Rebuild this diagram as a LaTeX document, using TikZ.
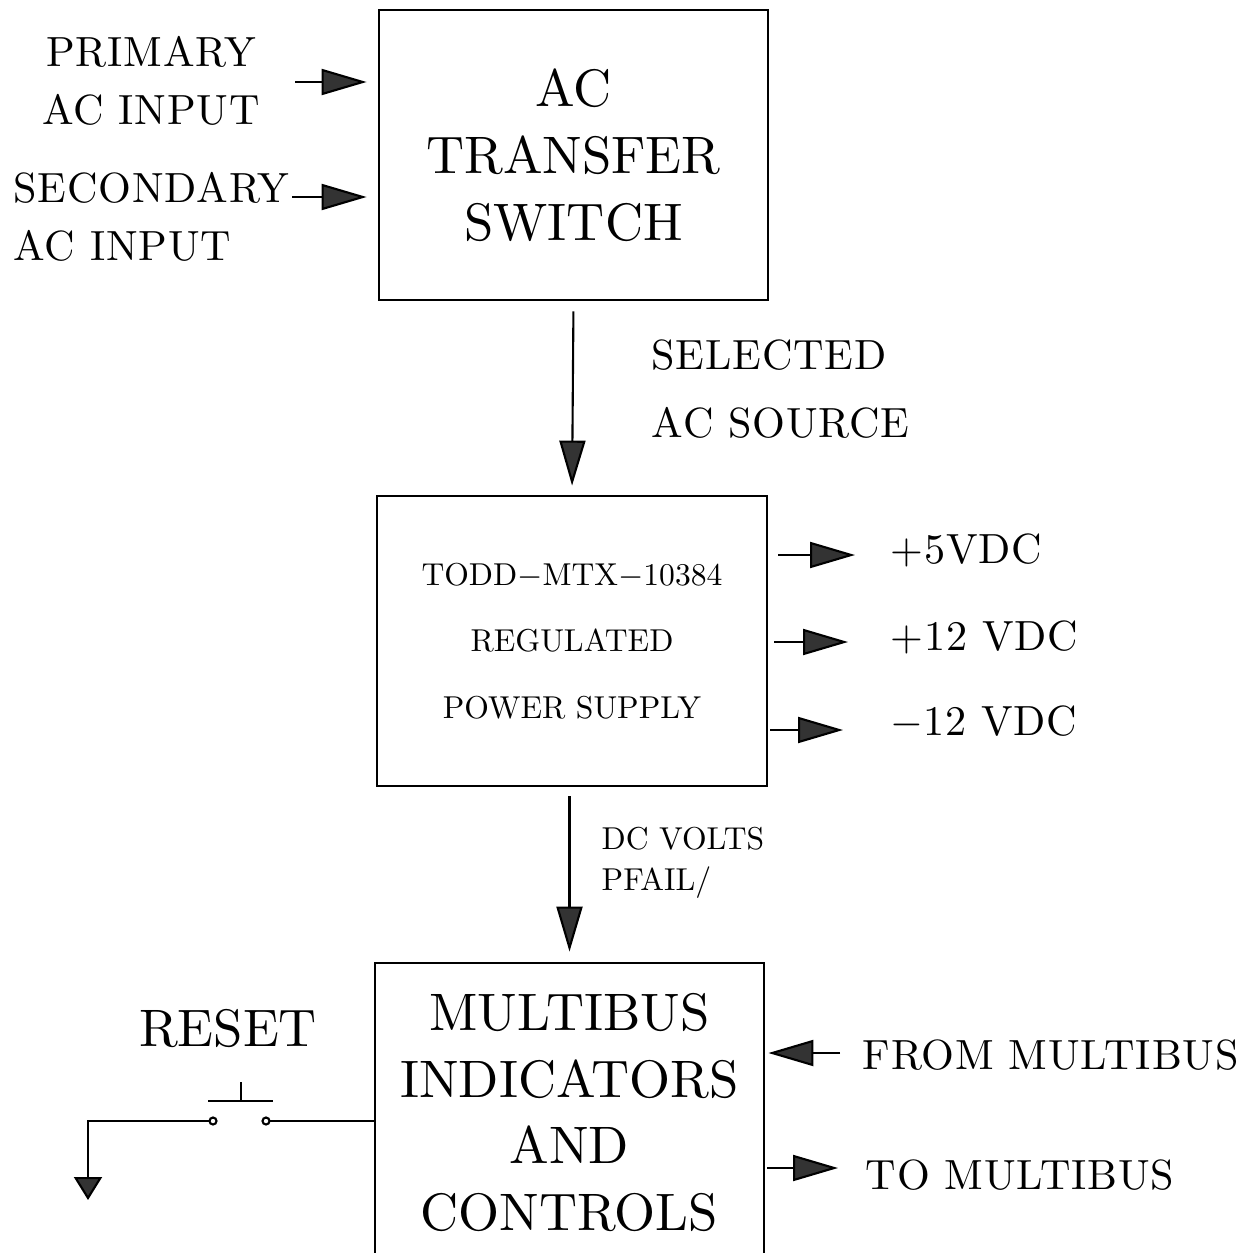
\documentclass[tikz,border=0pt]{standalone}
\usepackage{fontspec}
\setmainfont{lmroman10-regular.otf}
\usetikzlibrary{arrows.meta}
\begin{document}
\begin{tikzpicture}[
  arr/.style={line width=0.6pt,-{Triangle[length=4.5mm,width=2.6mm,fill=black!80]}},
  blockbox/.style={draw,line width=0.8pt,align=center,inner sep=0pt},
  lbl/.style={inner sep=0pt},
  big/.style={font=\fontsize{15}{19}\selectfont},
  mid/.style={font=\fontsize{12}{16.5}\selectfont\addfontfeatures{LetterSpace=2}},
  small/.style={font=\fontsize{9}{11.7}\selectfont}]
\useasboundingbox (0,0) rectangle (12.51,-12.53);
% blocks
\node[blockbox,big,minimum width=3.89cm,minimum height=2.90cm] (acbox) at (5.735,-1.55)
  {AC\\TRANSFER\\SWITCH};
\node[blockbox,font=\fontsize{9}{19}\selectfont,minimum width=3.90cm,minimum height=2.90cm] (psbox) at (5.72,-6.41)
  {TODD$-$MTX$-$10384\\REGULATED\\POWER SUPPLY};
\node[blockbox,big,minimum width=3.89cm,minimum height=2.99cm] (mbbox) at (5.695,-11.125)
  {MULTIBUS\\INDICATORS\\AND\\CONTROLS};
% inputs
\node[lbl,mid,align=center] (prim) at (1.51,-0.81) {PRIMARY\\AC INPUT};
\node[lbl,mid,align=left,anchor=west] (sec) at (0.13,-2.165) {SECONDARY\\AC INPUT};
\coordinate (primin) at (2.95,-0.82);
\coordinate (secin) at (2.92,-1.97);
\draw[arr,shorten >=0.11cm] (primin) -- (primin -| acbox.west);
\draw[arr,shorten >=0.11cm] (secin) -- (secin -| acbox.west);
% selected source
\draw[arr,shorten <=0.1cm,shorten >=0.09cm] (acbox.south) -- (psbox.north);
\node[lbl,font=\fontsize{12}{19.3}\selectfont\addfontfeatures{LetterSpace=2},align=left,anchor=west] (sel) at (6.51,-3.89) {SELECTED\\AC SOURCE};
% outputs
\node[lbl,mid,anchor=west] (v5) at (8.9,-5.50) {+5VDC};
\node[lbl,mid,anchor=west] (v12) at (8.9,-6.37) {+12 VDC};
\node[lbl,mid,anchor=west] (vn12) at (8.9,-7.22) {$-$12 VDC};
\draw[arr,shorten <=0.1cm,shorten >=0.35cm] (psbox.east |- 0,-5.55) -- (v5.west |- 0,-5.55);
\draw[arr,shorten <=0.06cm,shorten >=0.42cm] (psbox.east |- 0,-6.42) -- (v12.west |- 0,-6.42);
\draw[arr,shorten <=0.02cm,shorten >=0.47cm] (psbox.east |- 0,-7.30) -- (vn12.west |- 0,-7.30);
% dc volts
\draw[arr,shorten <=0.09cm,shorten >=0.1cm] (psbox.south -| mbbox.north) -- (mbbox.north);
\node[lbl,small,align=left,anchor=west] (dcv) at (6.01,-8.63) {DC VOLTS\\PFAIL/};
% multibus
\node[lbl,mid,anchor=west] (frommb) at (8.62,-10.55) {FROM MULTIBUS};
\node[lbl,mid,anchor=west] (tomb) at (8.65,-11.75) {TO MULTIBUS};
\draw[arr,shorten <=0.22cm,shorten >=0.03cm] (frommb.west |- 0,-10.53) -- (mbbox.east |- 0,-10.53);
\draw[arr,shorten <=0.02cm,shorten >=0.27cm] (mbbox.east |- 0,-11.68) -- (tomb.west |- 0,-11.68);
% reset switch
\node[lbl,big] (reset) at (2.28,-10.28) {RESET};
\coordinate (swl) at (2.13,-11.21);
\coordinate (swr) at (2.66,-11.21);
\draw[line width=0.6pt] (2.41,-10.82) -- (2.41,-11.01);
\draw[line width=0.6pt] (2.08,-11.01) -- (2.73,-11.01);
\draw[line width=0.6pt] (swl) circle (0.035);
\draw[line width=0.6pt] (swr) circle (0.035);
\draw[line width=0.6pt] ([xshift=0.035cm]swr) -- (mbbox.west |- swr);
\draw[line width=0.6pt,-{Triangle[length=2.3mm,width=2.8mm,fill=black!80]}]
  ([xshift=-0.035cm]swl) -- (0.88,-11.21) -- (0.88,-12.00);
\end{tikzpicture}
\end{document}
